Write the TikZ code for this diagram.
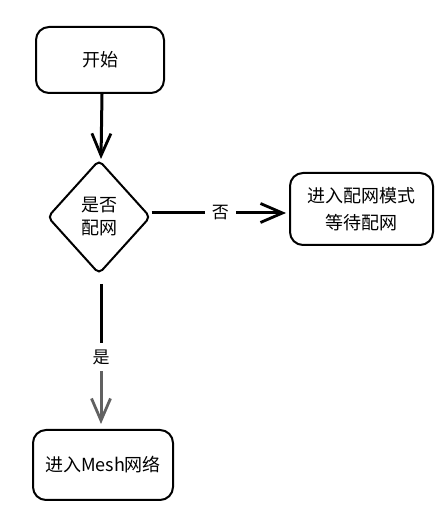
\documentclass[tikz,border=0pt]{standalone}
\usepackage{fontspec}
\setmainfont{Noto Sans CJK SC}
\usetikzlibrary{shapes.geometric,arrows.meta}
\tikzset{
  boxstyle/.style={draw=black, line width=2pt, rounded corners=13pt, fill=white,
    align=center, inner sep=0pt, font=\fontsize{18}{27}\selectfont},
  diastyle/.style={draw=black, line width=2pt, diamond, rounded corners=5pt, fill=white,
    align=center, inner sep=0pt, font=\fontsize{18}{23}\selectfont,
    minimum width=103pt, minimum height=114pt},
  flow/.style={line width=3pt, draw=black,
    -{Straight Barb[length=22pt, width=19pt, line width=2.8pt]}},
  lbl/.style={fill=white, inner sep=7pt, font=\fontsize{17}{20}\selectfont}
}
\begin{document}
\begin{tikzpicture}
\useasboundingbox (0pt,0pt) rectangle (446pt,514pt);
\node[boxstyle, minimum width=128pt, minimum height=66pt] (start) at (100pt,454pt) {开始};
\node[diastyle] (dia) at (99pt,297pt) {是否\\配网};
\node[boxstyle, minimum width=143pt, minimum height=72pt] (rb) at (361.5pt,305pt) {进入配网模式\\等待配网};
\node[boxstyle, minimum width=140pt, minimum height=70pt] (mesh) at (103pt,49pt) {进入Mesh网络};
\coordinate (dtop) at ([xshift=2pt]dia.north);
\draw[flow, shorten >=0pt] ([xshift=2pt]start.south) -- (dtop);
\coordinate (de) at ([yshift=4pt]dia.east);
\draw[flow, shorten >=3pt] (de) -- (de -| rb.west) node[lbl, pos=0.5] (nolbl) {否};
\coordinate (ds) at ([xshift=2pt]dia.south);
\coordinate (ylbl) at (101pt,157pt);
\draw[line width=3pt, draw=black, shorten <=9pt] (ds) -- (ylbl);
\draw[flow, draw=black!62, shorten >=5pt] (ylbl) -- (ylbl |- mesh.north);
\node[lbl] (yes) at (ylbl) {是};
\end{tikzpicture}
\end{document}
